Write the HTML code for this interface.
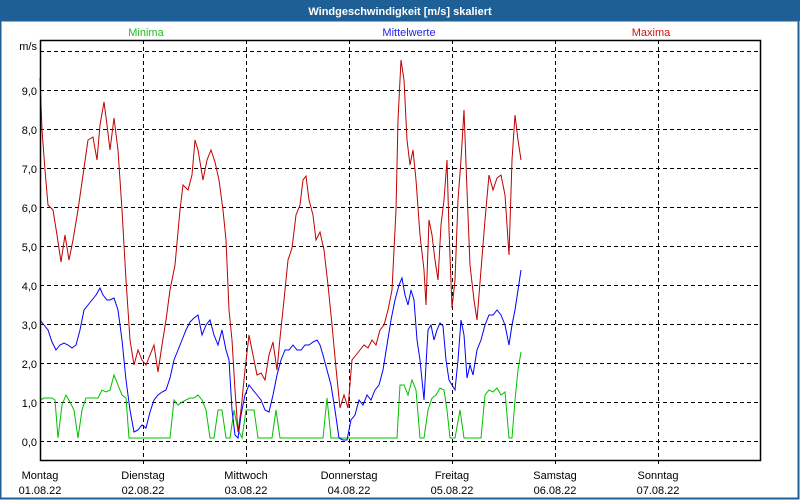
<!DOCTYPE html>
<html><head><meta charset="utf-8"><style>
html,body{margin:0;padding:0;background:#fff}
svg{display:block;font-family:"Liberation Sans",sans-serif;font-size:11px}
</style></head><body>
<svg width="800" height="500" xmlns="http://www.w3.org/2000/svg">
<rect x="0" y="0" width="800" height="500" fill="#fff"/>
<rect x="0" y="0" width="800" height="21" fill="#1e5f96"/>
<rect x="0.5" y="20.5" width="798" height="478" fill="none" stroke="#1e5f96" stroke-width="2"/>
<text x="400" y="15" fill="#fff" text-anchor="middle" font-weight="bold">Windgeschwindigkeit [m/s] skaliert</text>
<text x="146" y="36" fill="#22bb22" text-anchor="middle">Minima</text>
<text x="409" y="36" fill="#2222ee" text-anchor="middle">Mittelwerte</text>
<text x="651" y="36" fill="#cc1111" text-anchor="middle">Maxima</text>
<text x="37" y="50" text-anchor="end">m/s</text>
<g stroke="#000" stroke-dasharray="4,3" stroke-width="1">
<line x1="40" y1="51.5" x2="760" y2="51.5"/>
<line x1="40" y1="90.5" x2="760" y2="90.5"/>
<line x1="40" y1="129.5" x2="760" y2="129.5"/>
<line x1="40" y1="168.5" x2="760" y2="168.5"/>
<line x1="40" y1="207.5" x2="760" y2="207.5"/>
<line x1="40" y1="246.5" x2="760" y2="246.5"/>
<line x1="40" y1="285.5" x2="760" y2="285.5"/>
<line x1="40" y1="324.5" x2="760" y2="324.5"/>
<line x1="40" y1="363.5" x2="760" y2="363.5"/>
<line x1="40" y1="402.5" x2="760" y2="402.5"/>
<line x1="40" y1="441.5" x2="760" y2="441.5"/>
<line x1="143.5" y1="40" x2="143.5" y2="466"/>
<line x1="246.5" y1="40" x2="246.5" y2="466"/>
<line x1="349.5" y1="40" x2="349.5" y2="466"/>
<line x1="452.5" y1="40" x2="452.5" y2="466"/>
<line x1="555.5" y1="40" x2="555.5" y2="466"/>
<line x1="658.5" y1="40" x2="658.5" y2="466"/>
</g>
<g text-anchor="end">
<text x="37" y="95">9,0</text><text x="37" y="134">8,0</text><text x="37" y="173">7,0</text>
<text x="37" y="212">6,0</text><text x="37" y="251">5,0</text><text x="37" y="290">4,0</text>
<text x="37" y="329">3,0</text><text x="37" y="368">2,0</text><text x="37" y="407">1,0</text>
<text x="37" y="446">0,0</text>
</g>
<g text-anchor="middle">
<text x="40" y="479">Montag</text><text x="40" y="494">01.08.22</text>
<text x="143" y="479">Dienstag</text><text x="143" y="494">02.08.22</text>
<text x="246" y="479">Mittwoch</text><text x="246" y="494">03.08.22</text>
<text x="349" y="479">Donnerstag</text><text x="349" y="494">04.08.22</text>
<text x="452" y="479">Freitag</text><text x="452" y="494">05.08.22</text>
<text x="555" y="479">Samstag</text><text x="555" y="494">06.08.22</text>
<text x="658" y="479">Sonntag</text><text x="658" y="494">07.08.22</text>
</g>
<polyline fill="none" stroke="#00c000" stroke-width="1" points="40,400 44,398 48,398 52,398 55,400 58,438 62,405 66,395 70,402 74,410 78,438 82,410 86,398 90,398 94,398 98,398 102,390 106,392 110,390 114,375 118,385 122,395 126,398 129,438 170,438 174,400 178,405 182,402 186,400 190,398 194,398 198,395 202,400 206,410 210,438 214,438 218,410 222,410 226,438 230,438 234,410 238,430 242,438 246,410 250,410 254,410 258,438 272,438 276,410 280,438 323,438 327,398 331,438 397,438 400,385 404,385 408,395 412,380 416,390 420,438 424,438 428,410 432,398 436,395 440,388 444,390 447,410 450,438 455,438 460,410 464,438 481,438 485,395 489,390 493,392 497,388 501,395 505,392 509,438 512,438 515,400 518,370 521,352"/>
<polyline fill="none" stroke="#0000ff" stroke-width="1" points="40,320 44,325 48,330 52,342 56,350 60,345 64,343 68,345 72,348 76,345 80,330 84,310 88,305 92,300 96,295 100,288 103,295 107,300 110,300 114,298 118,310 122,340 126,380 130,410 134,432 138,430 142,425 146,428 150,412 154,400 158,395 162,392 166,390 170,378 174,360 178,350 182,340 186,330 190,322 194,318 198,315 202,335 206,325 210,320 214,335 218,345 222,330 226,350 229,360 232,410 235,435 238,438 241,415 245,395 249,385 253,390 257,395 261,400 265,410 269,412 273,395 277,375 281,360 285,350 289,350 293,345 297,350 301,350 305,345 309,345 313,342 317,340 320,345 323,355 327,370 331,385 335,410 339,438 343,440 347,440 351,420 355,415 359,400 363,405 367,395 371,400 375,390 379,385 383,370 387,345 391,320 395,300 399,285 402,278 405,295 408,305 411,290 414,300 417,340 420,360 424,400 428,330 431,325 434,340 437,330 440,323 443,326 446,360 449,380 452,385 455,390 458,360 461,320 464,335 467,378 470,365 473,375 477,350 481,340 485,325 489,315 493,315 497,310 501,315 505,325 509,345 512,325 515,310 518,290 521,270"/>
<polyline fill="none" stroke="#c00000" stroke-width="1" points="40,78 42,130 45,170 48,205 53,210 57,235 61,262 65,235 69,260 73,240 78,210 83,175 88,140 93,137 97,160 100,125 104,102 107,125 110,150 114,118 118,150 122,210 126,280 130,340 134,365 138,350 142,360 146,365 150,355 154,345 158,372 162,345 166,320 170,290 175,265 180,210 183,185 188,190 192,175 195,140 198,150 203,180 207,160 211,150 215,162 219,180 223,210 226,240 229,310 232,340 235,390 238,432 241,410 245,370 249,335 253,355 257,375 261,373 265,380 269,355 273,342 277,370 280,338 284,300 288,260 292,248 296,215 300,205 303,180 306,176 309,200 313,215 316,240 320,232 324,250 328,285 332,325 336,368 340,408 344,395 348,408 352,360 356,355 360,350 364,345 368,348 372,340 376,345 380,330 384,325 388,310 392,290 396,210 398,120 401,60 404,80 407,140 410,165 413,150 416,180 420,235 424,270 426,305 429,220 432,235 435,260 438,280 441,225 444,200 447,160 449,230 452,308 455,280 458,200 461,160 464,110 467,190 470,265 474,300 477,320 481,270 485,220 489,175 493,190 497,178 501,175 505,195 509,255 512,160 515,115 518,140 521,160"/>
<rect x="40.5" y="40.5" width="720" height="420" fill="none" stroke="#000" stroke-width="1.5"/>
</svg>
</body></html>
